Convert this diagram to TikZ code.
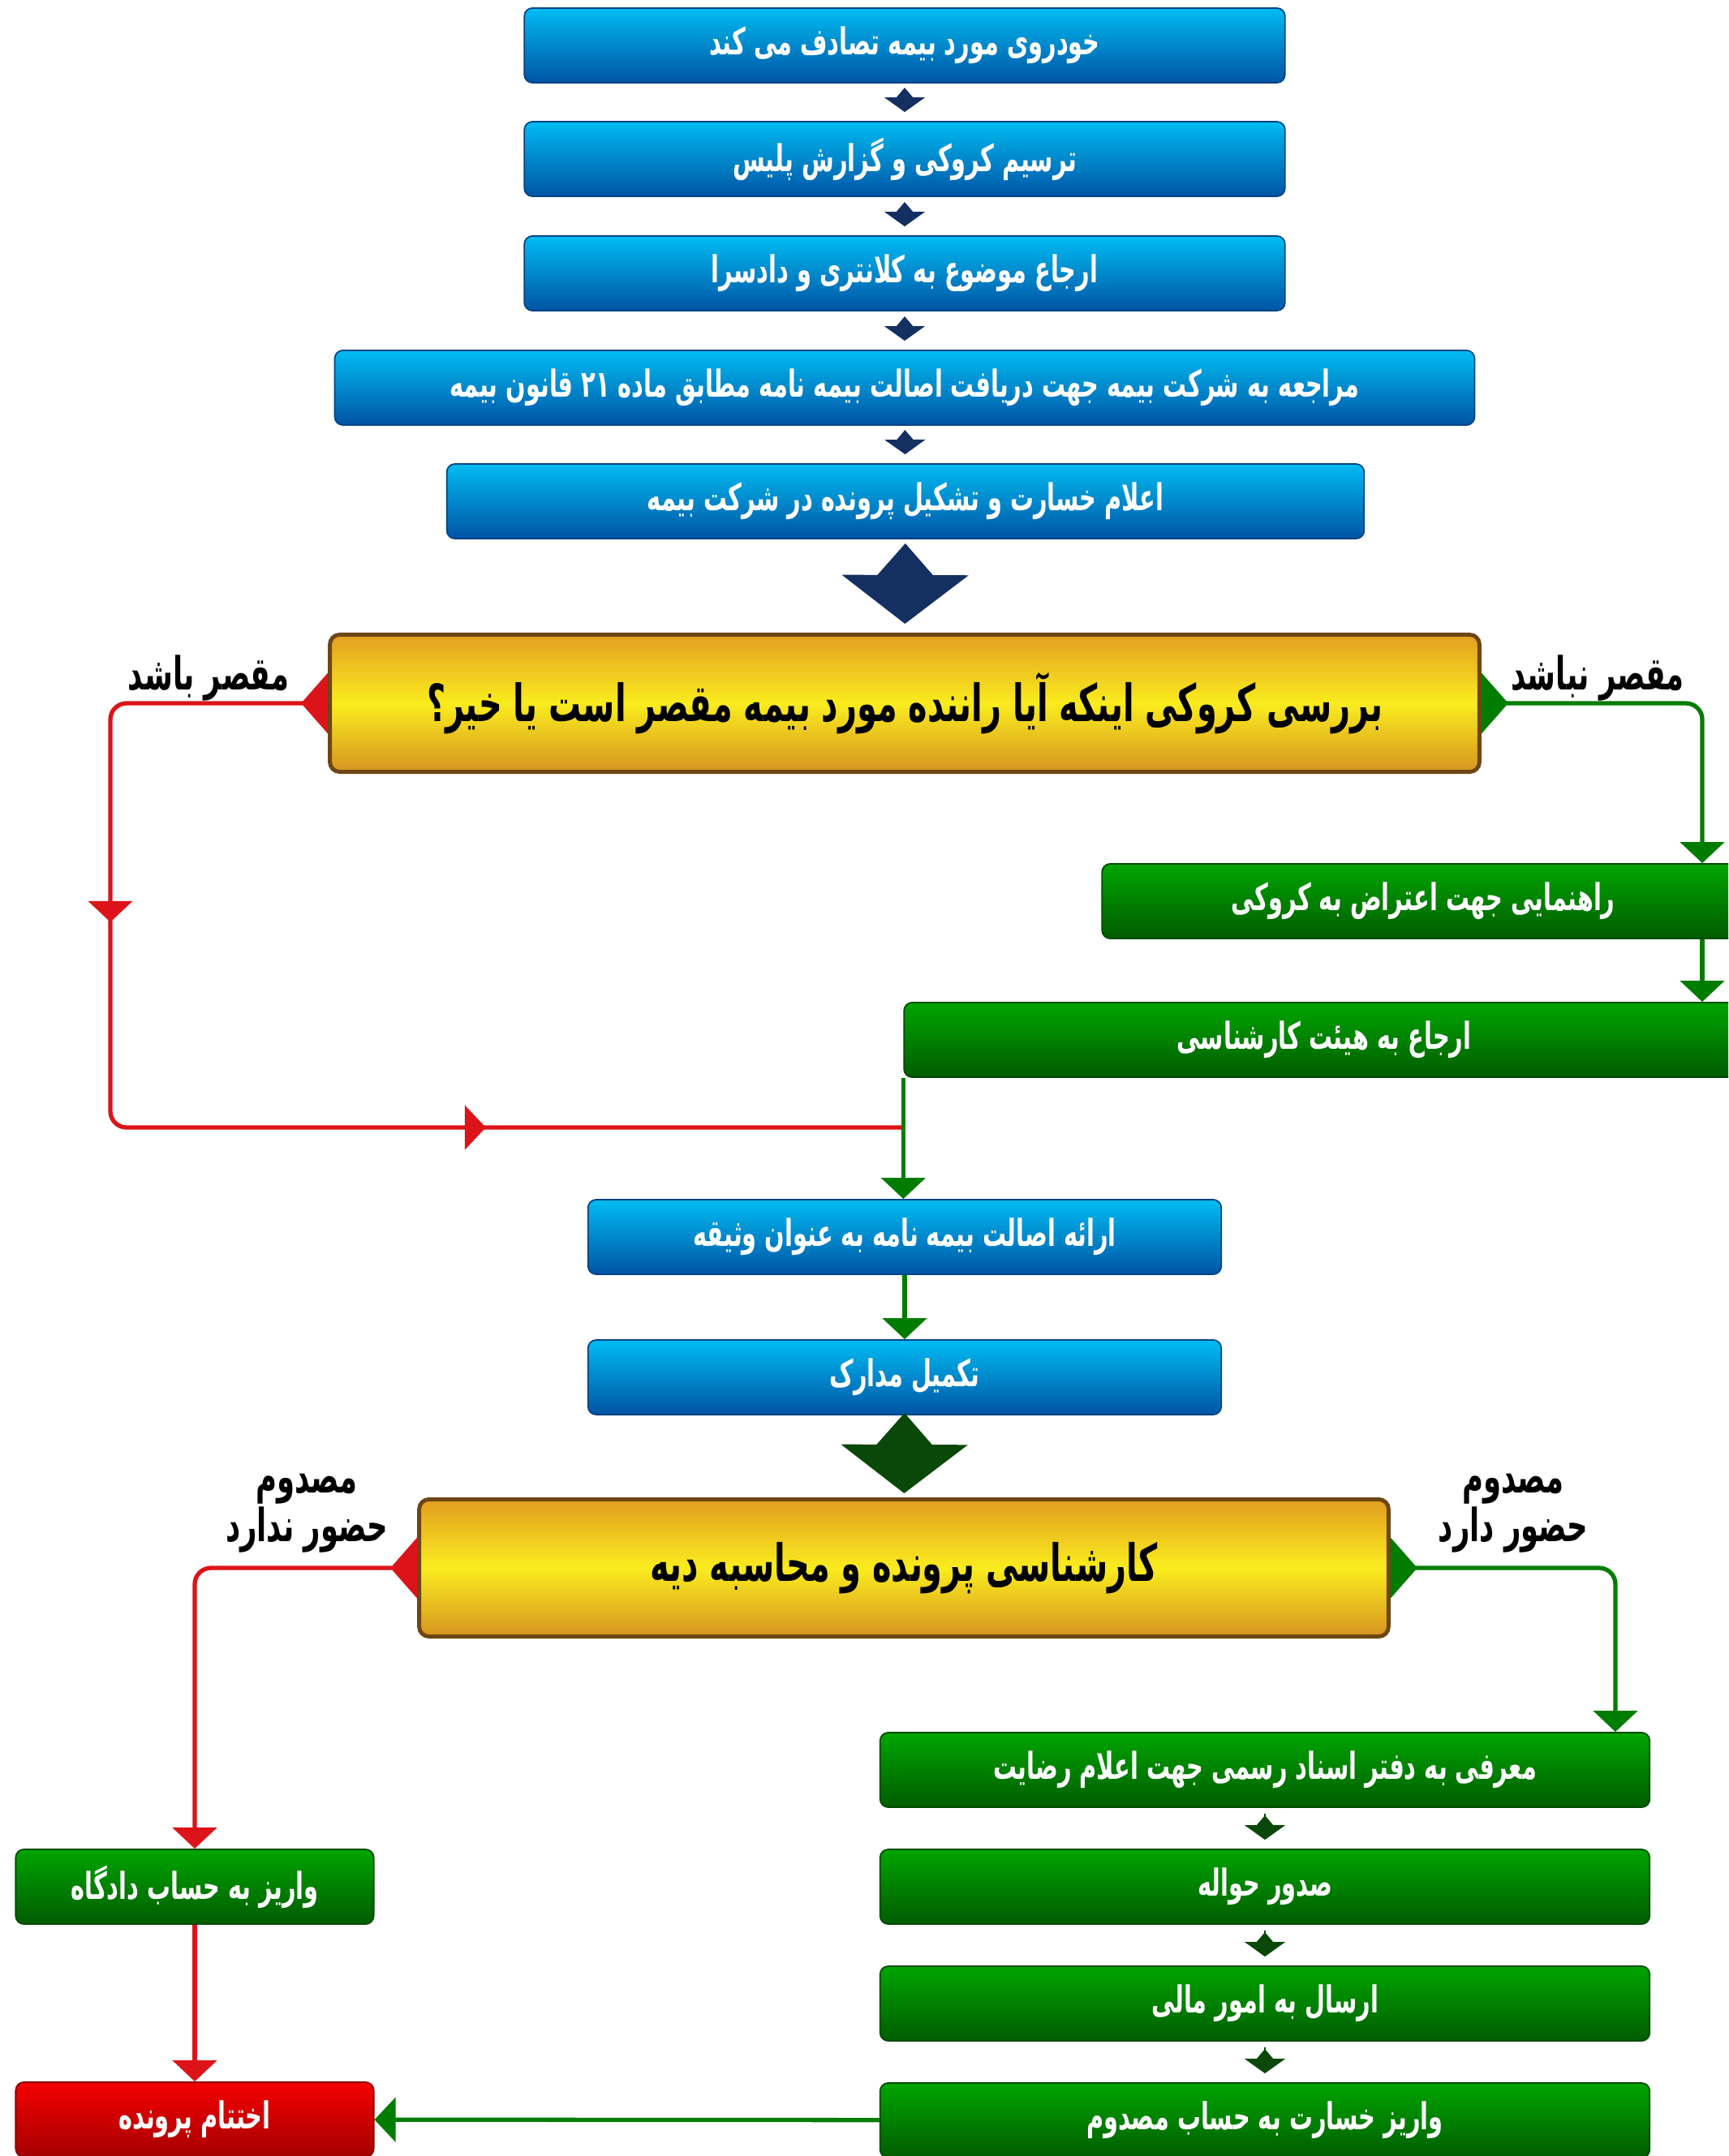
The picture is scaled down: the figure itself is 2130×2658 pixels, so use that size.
\documentclass[tikz,border=0pt]{standalone}
\usepackage{fontspec}
\usepackage{tikz}
\usetikzlibrary{arrows.meta,calc,decorations.markings}
\TeXXeTstate=1
\newfontfamily\fa[Script=Arabic,FakeStretch=0.7]{DejaVu Sans Condensed}

\definecolor{bluetop}{RGB}{0,188,242}
\definecolor{bluebot}{RGB}{0,84,165}
\definecolor{greentop}{RGB}{0,165,0}
\definecolor{greenbot}{RGB}{0,92,0}
\definecolor{redtop}{RGB}{245,0,0}
\definecolor{redbot}{RGB}{165,0,0}
\definecolor{goldtop}{RGB}{226,158,32}
\definecolor{goldmid}{RGB}{250,236,30}
\definecolor{goldbot}{RGB}{214,148,32}
\definecolor{goldedge}{RGB}{110,70,20}
\definecolor{navy}{RGB}{20,48,98}
\definecolor{darkgreen}{RGB}{10,72,10}
\definecolor{redline}{RGB}{220,20,25}
\definecolor{greenline}{RGB}{0,125,0}

\begin{document}
\begin{tikzpicture}[x=0.01cm,y=-0.01cm,
    box/.style={rounded corners=0.1cm, minimum height=0.92cm, inner sep=0pt,
        text=white, font=\fa\bfseries\fontsize{13}{15}\selectfont, line width=0.5pt},
    bluebox/.style={box, top color=bluetop, bottom color=bluebot, draw=bluebot!80!black},
    greenbox/.style={box, top color=greentop, bottom color=greenbot, draw=greenbot!80!black},
    redbox/.style={box, top color=redtop, bottom color=redbot, draw=redbot!80!black},
    goldbox/.style={rounded corners=0.12cm, minimum height=1.69cm, inner sep=0pt,
        line width=1.4pt, draw=goldedge,
        top color=goldtop, bottom color=goldbot, middle color=goldmid,
        font=\fa\bfseries\fontsize{18}{21}\selectfont},
    lbl/.style={font=\fa\bfseries\fontsize{16}{17}\selectfont, align=center},
    flowhead/.tip={Triangle[length=0.26cm,width=0.54cm]},
    sidehead/.tip={Triangle[reversed,length=0.33cm,width=0.74cm]},
    smallkite/.tip={Triangle[reversed,length=0.12cm,width=0.2cm,sep=0pt]Triangle[length=0.18cm,width=0.5cm,sep=0pt]},
    bigkite/.tip={Triangle[reversed,length=0.39cm,width=0.68cm,sep=0pt]Triangle[length=0.6cm,width=1.56cm,sep=0pt]},
    redflow/.style={draw=redline, line width=1.5pt, rounded corners=0.2cm},
    greenflow/.style={draw=greenline, line width=1.5pt, rounded corners=0.2cm},
    kitelink/.style={draw=#1, line width=0.5pt, -{smallkite}, shorten <=0.07cm, shorten >=0.11cm}
]
    \useasboundingbox (0,0) rectangle (2130,2658);
    \clip (0,0) rectangle (2130,2658);

    % top chain (blue)
    \node[bluebox, minimum width=9.37cm] (b1) at (1115,56)
        {\beginR خودروی مورد بیمه تصادف می کند\endR};
    \node[bluebox, minimum width=9.37cm] (b2) at (1115,196)
        {\beginR ترسیم کروکی و گزارش پلیس\endR};
    \node[bluebox, minimum width=9.37cm] (b3) at (1115,337)
        {\beginR ارجاع موضوع به کلانتری و دادسرا\endR};
    \node[bluebox, minimum width=14.04cm] (b4) at (1115,478)
        {\beginR مراجعه به شرکت بیمه جهت دریافت اصالت بیمه نامه مطابق ماده ۲۱ قانون بیمه\endR};
    \node[bluebox, minimum width=11.3cm] (b5) at (1116,618)
        {\beginR اعلام خسارت و تشکیل پرونده در شرکت بیمه\endR};

    \draw[kitelink=navy] (b1) -- (b2);
    \draw[kitelink=navy] (b2) -- (b3);
    \draw[kitelink=navy] (b3) -- (b4);
    \draw[kitelink=navy] (b4) -- (b5);

    % first decision
    \node[goldbox, minimum width=14.16cm] (y1) at (1115,867)
        {\beginR بررسی کروکی اینکه آیا راننده مورد بیمه مقصر است یا خیر؟\endR};
    \draw[draw=navy, line width=0.5pt, -{bigkite}, shorten <=0.07cm, shorten >=0.11cm] (b5) -- (y1);

    \node[lbl] (guilty) at (257,836) {\beginR مقصر باشد\endR};
    \node[lbl] (notguilty) at (1969,836) {\beginR مقصر نباشد\endR};

    % not guilty branch
    \node[greenbox, minimum width=7.91cm] (g1) at (1754,1111)
        {\beginR راهنمایی جهت اعتراض به کروکی\endR};
    \node[greenbox, minimum width=10.35cm] (g2) at (1632,1282)
        {\beginR ارجاع به هیئت کارشناسی\endR};

    \coordinate (gr) at (2098,867);
    \coordinate (rl) at (136,1390);
    \coordinate (join) at (1115,1390);

    \draw[greenflow, {sidehead}-{flowhead}] (y1.east) -| (g1.north -| gr);
    \draw[greenflow, -{flowhead}] (g1.south -| gr) -- (g2.north -| gr);

    % guilty branch
    \draw[redflow, {sidehead}-, postaction={decorate}, decoration={markings,
        mark=at position 5.29cm with {\arrow{flowhead}},
        mark=at position 12.36cm with {\arrow{flowhead}}}]
        (y1.west) -| (rl) -- (join);

    % documents (blue)
    \node[bluebox, minimum width=7.8cm] (b6) at (1115,1525)
        {\beginR ارائه اصالت بیمه نامه به عنوان وثیقه\endR};
    \node[bluebox, minimum width=7.8cm] (b7) at (1115,1698)
        {\beginR تکمیل مدارک\endR};

    \draw[greenflow, -{flowhead}] (g2.south west) -- (g2.south west |- b6.north);
    \draw[greenflow, -{flowhead}] (b6) -- (b7);

    % second decision
    \node[goldbox, minimum width=11.94cm] (y2) at (1114,1933)
        {\beginR کارشناسی پرونده و محاسبه دیه\endR};
    \draw[draw=darkgreen, line width=0.5pt, -{bigkite}, shorten >=0.05cm] (b7) -- (y2);

    \node[lbl] (absent) at (378,1866) {\beginR مصدوم\endR\\\beginR حضور ندارد\endR};
    \node[lbl] (present) at (1865,1866) {\beginR مصدوم\endR\\\beginR حضور دارد\endR};

    % injured absent
    \node[greenbox, minimum width=4.41cm] (court) at (240,2326)
        {\beginR واریز به حساب دادگاه\endR};
    \node[redbox, minimum width=4.41cm] (close) at (240,2613)
        {\beginR اختتام پرونده\endR};

    \draw[redflow, {sidehead}-{flowhead}] (y2.west) -| (court.north);
    \draw[redflow, -{flowhead}] (court) -- (close);

    % injured present
    \node[greenbox, minimum width=9.48cm] (g3) at (1559,2182)
        {\beginR معرفی به دفتر اسناد رسمی جهت اعلام رضایت\endR};
    \node[greenbox, minimum width=9.48cm] (g4) at (1559,2326)
        {\beginR صدور حواله\endR};
    \node[greenbox, minimum width=9.48cm] (g5) at (1559,2470)
        {\beginR ارسال به امور مالی\endR};
    \node[greenbox, minimum width=9.48cm] (g6) at (1559,2614)
        {\beginR واریز خسارت به حساب مصدوم\endR};

    \coordinate (gd) at (1991,1933);
    \draw[greenflow, {sidehead}-{flowhead}] (y2.east) -| (g3.north -| gd);

    \draw[kitelink=darkgreen] (g3) -- (g4);
    \draw[kitelink=darkgreen] (g4) -- (g5);
    \draw[kitelink=darkgreen] (g5) -- (g6);

    \draw[greenflow, -{flowhead}] (g6) -- (close);
\end{tikzpicture}
\end{document}
